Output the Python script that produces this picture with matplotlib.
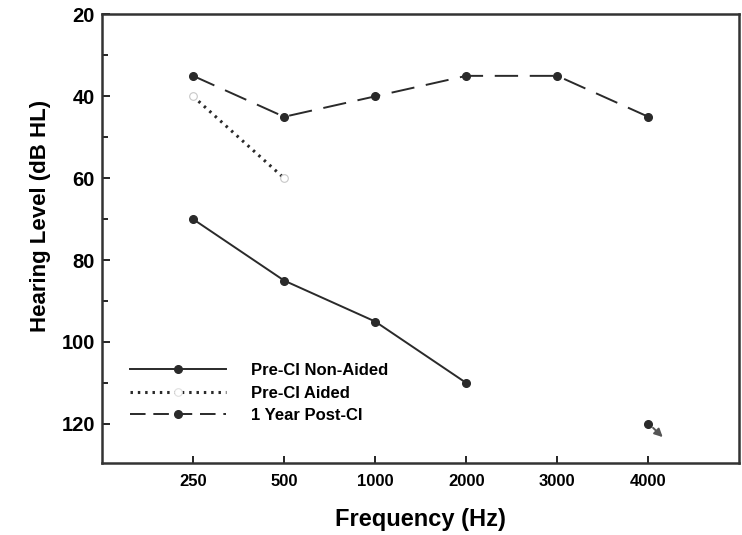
import matplotlib.pyplot as plt
from matplotlib.lines import Line2D

plt.rcParams['font.family'] = ['Liberation Sans', 'DejaVu Sans']
plt.rcParams['font.weight'] = 'bold'

FREQ_LABELS = ["250", "500", "1000", "2000", "3000", "4000"]
POS = [1, 2, 3, 4, 5, 6]

NON_AIDED_X = [1, 2, 3, 4]
NON_AIDED = [70, 85, 95, 110]
AIDED_X = [1, 2]
AIDED = [40, 60]
POST_CI_X = [1, 2, 3, 4, 5, 6]
POST_CI = [35, 45, 40, 35, 35, 45]
NO_RESPONSE_X = [6]
NO_RESPONSE = [120]

INK = "#2a2a2a"

fig = plt.figure(figsize=(7.42, 5.35), dpi=100)
ax = fig.add_axes([0.1375, 0.135, 0.859, 0.838])

ax.plot(NON_AIDED_X, NON_AIDED, color=INK, lw=1.4, marker="o", ms=5.5)
ax.plot(AIDED_X, AIDED, color=INK, lw=2.2, ls=(0, (0.8, 1.6)), marker="o", ms=5.5,
        mfc="white", mec="#c8c8c8", mew=0.8)
ax.plot(POST_CI_X, POST_CI, color=INK, lw=1.4, ls=(0, (12, 6)), marker="o", ms=5.5)
ax.plot(NO_RESPONSE_X, NO_RESPONSE, color=INK, ls="none", marker="o", ms=5.5)
ax.annotate("", xy=(NO_RESPONSE_X[0] + 0.18, NO_RESPONSE[0] + 3.7),
            xytext=(NO_RESPONSE_X[0] + 0.03, NO_RESPONSE[0] + 0.5),
            arrowprops=dict(arrowstyle="-|>", color="#555555", lw=1.4, mutation_scale=12))

ax.set_xlim(0, 7)
ax.set_ylim(129.5, 20)
ax.set_xticks(POS)
ax.set_xticklabels(FREQ_LABELS, fontsize=12, fontweight="bold")
ax.set_yticks([20, 40, 60, 80, 100, 120])
ax.set_yticks([30, 50, 70, 90, 110], minor=True)
ax.tick_params(axis="y", labelsize=14.5, direction="in", length=6, width=1.2, pad=5)
ax.tick_params(axis="y", which="minor", direction="in", length=4, width=1.2)
ax.tick_params(axis="x", direction="in", length=5, width=1.2, pad=8)
for lbl in ax.get_yticklabels():
    lbl.set_fontweight("bold")
for sp in ax.spines.values():
    sp.set_linewidth(1.8)
    sp.set_color("#333333")

ax.set_xlabel("Frequency (Hz)", fontsize=17, fontweight="bold", labelpad=14)
ax.set_ylabel("Hearing Level (dB HL)", fontsize=16, fontweight="bold")
ax.yaxis.set_label_coords(-0.08, 0.55)

handles = [
    Line2D([], [], color=INK, lw=1.4, marker="o", ms=5.5),
    Line2D([], [], color=INK, lw=2.2, ls=(0, (0.8, 1.6)), marker="o", ms=5.5,
           mfc="white", mec="#e0e0e0", mew=0.8),
    Line2D([], [], color=INK, lw=1.4, ls=(0, (8, 4)), marker="o", ms=5.5),
]
ax.legend(handles, ["Pre-CI Non-Aided", "Pre-CI Aided", "1 Year Post-CI"],
          loc="lower left", bbox_to_anchor=(0.02, 0.055), frameon=False,
          handlelength=5.8, handletextpad=1.5, labelspacing=0.45,
          prop=dict(size=12, weight="bold"))

fig.savefig("out.png", dpi=100, facecolor="white")
